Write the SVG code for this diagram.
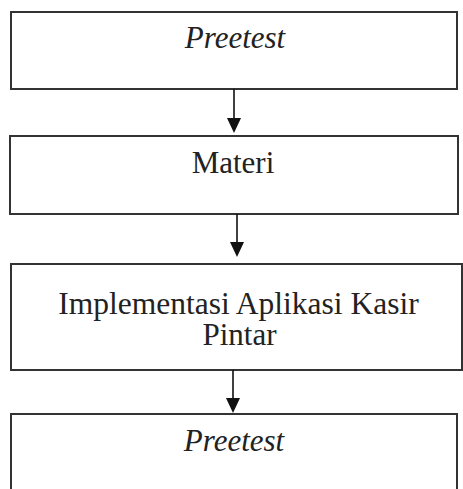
<svg xmlns="http://www.w3.org/2000/svg" width="463" height="489" viewBox="0 0 463 489">
<style>
.box{fill:#fff;stroke:#333;stroke-width:2}
.t{font-family:"Liberation Serif","Times New Roman",serif;font-size:31px;fill:#222;text-anchor:middle}
.i{font-style:italic}
.c{stroke:#111;stroke-width:1.6;fill:none}
.h{fill:#111}
</style>
<rect width="463" height="489" fill="#fff"/>
<g id="node-preetest1">
<rect class="box" x="11" y="12" width="446" height="77"/>
<text class="t i" x="235" y="48">Preetest</text>
</g>
<g id="node-materi">
<rect class="box" x="10" y="136" width="448" height="78"/>
<text class="t" x="233" y="173">Materi</text>
</g>
<g id="node-implementasi">
<rect class="box" x="11" y="264" width="451" height="106"/>
<text class="t" x="238.5" y="314" style="font-size:31.5px">Implementasi Aplikasi Kasir</text>
<text class="t" x="239.5" y="345">Pintar</text>
</g>
<g id="node-preetest2">
<rect class="box" x="11" y="414" width="446" height="90"/>
<text class="t i" x="234" y="451">Preetest</text>
</g>
<g id="connectors">
<line class="c" x1="234" y1="89" x2="234" y2="120"/>
<polygon class="h" points="227,118 241,118 234,133"/>
<line class="c" x1="237" y1="214" x2="237" y2="244"/>
<polygon class="h" points="230,242 244,242 237,257"/>
<line class="c" x1="233" y1="370" x2="233" y2="400"/>
<polygon class="h" points="226,398 240,398 233,413"/>
</g>
</svg>
